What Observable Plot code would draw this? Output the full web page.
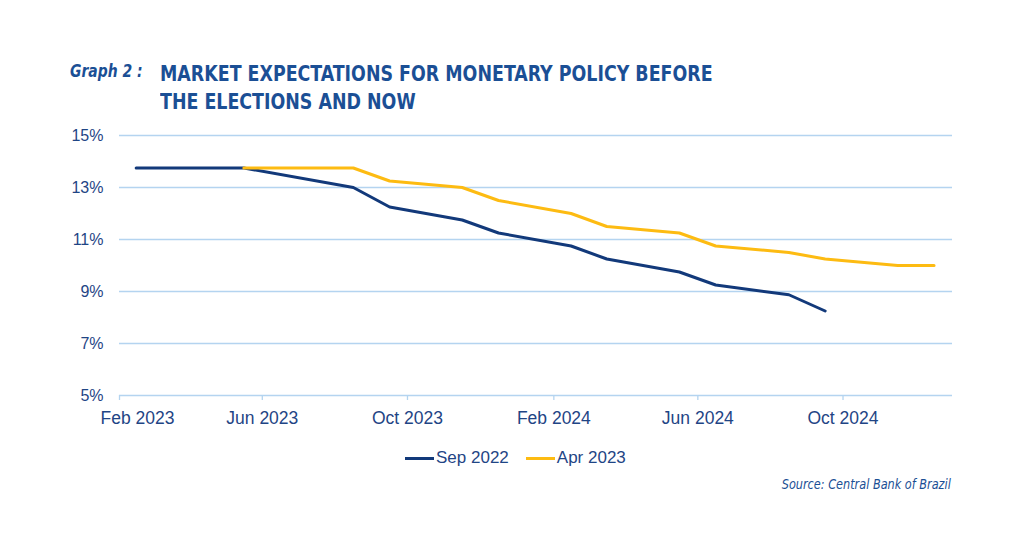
<!DOCTYPE html>
<html>
<head>
<meta charset="utf-8">
<script src="https://cdn.jsdelivr.net/npm/d3@7"></script>
<script src="https://cdn.jsdelivr.net/npm/@observablehq/plot@0.6"></script>
<style>
  html, body { margin: 0; padding: 0; background: #fff; }
  #page { position: relative; width: 1024px; height: 546px; overflow: hidden; font-family: "Liberation Sans", Arial, sans-serif; }
  .graph-no { position: absolute; left: 70px; top: 60px; font-family: "DejaVu Sans Condensed", sans-serif; font-style: italic; font-weight: bold; font-size: 18px; color: #1b4f95; transform: scaleX(0.86); transform-origin: left top; white-space: nowrap; }
  .title { position: absolute; left: 160px; top: 60px; font-family: "DejaVu Sans Condensed", sans-serif; font-weight: bold; font-size: 21px; line-height: 28px; color: #1b4f95; transform: scaleX(0.922); transform-origin: left top; white-space: nowrap; }
  #chart { position: absolute; left: 0; top: 115px; }
  .legend { position: absolute; top: 448px; left: 405px; display: flex; font-size: 17px; color: #1f4585; }
  .legend .item { display: flex; align-items: center; margin-right: 17px; }
  .legend .sw { width: 29px; height: 3px; margin-right: 2px; }
  .source { position: absolute; right: 73px; top: 476px; font-family: "DejaVu Sans Condensed", sans-serif; font-style: italic; font-size: 13.5px; color: #1b4f95; transform: scaleX(0.93); transform-origin: right top; white-space: nowrap; }
</style>
</head>
<body>
<div id="page">
  <div class="graph-no">Graph 2 :</div>
  <div class="title">MARKET EXPECTATIONS FOR MONETARY POLICY BEFORE<br>THE ELECTIONS AND NOW</div>
  <div id="chart"></div>
  <div class="legend">
    <div class="item"><span class="sw" style="background:#12397a"></span>Sep 2022</div>
    <div class="item"><span class="sw" style="background:#fdbb12"></span>Apr 2023</div>
  </div>
  <div class="source">Source: Central Bank of Brazil</div>
</div>
<script>
// Expected Selic path by Copom meeting month (% per year)
const sep2022Months = ["2023-02","2023-05","2023-08","2023-09","2023-11","2023-12","2024-02","2024-03","2024-05","2024-06","2024-08","2024-09"];
const sep2022Rates  = [13.75, 13.75, 13.0, 12.25, 11.75, 11.25, 10.75, 10.25, 9.75, 9.25, 8.875, 8.25];

const apr2023Months = ["2023-05","2023-08","2023-09","2023-11","2023-12","2024-02","2024-03","2024-05","2024-06","2024-08","2024-09","2024-11","2024-12"];
const apr2023Rates  = [13.75, 13.75, 13.25, 13.0, 12.5, 12.0, 11.5, 11.25, 10.75, 10.5, 10.25, 10.0, 10.0];

const seriesNames = ["Sep 2022", "Apr 2023"];
const seriesColors = ["#12397a", "#fdbb12"];

const yTicks = [5, 7, 9, 11, 13, 15];
const xTickMonths = ["2023-02","2023-06","2023-10","2024-02","2024-06","2024-10"];
const xTickLabels = ["Feb 2023","Jun 2023","Oct 2023","Feb 2024","Jun 2024","Oct 2024"];

const parseMonth = d3.utcParse("%Y-%m");
// each value sits in the middle of its month
const midMonth = (m) => { const s = parseMonth(m); const e = d3.utcMonth.offset(s, 1); return new Date((+s + +e) / 2); };

const rows = [
  ...sep2022Months.map((m, i) => ({date: midMonth(m), rate: sep2022Rates[i], series: seriesNames[0]})),
  ...apr2023Months.map((m, i) => ({date: midMonth(m), rate: apr2023Rates[i], series: seriesNames[1]}))
];

const tickDates = xTickMonths.map(parseMonth);
const labelOf = new Map(tickDates.map((d, i) => [+d, xTickLabels[i]]));
const gridColor = "#b4d4f0";
const textColor = "#1f4585";

const chart = Plot.plot({
  width: 1024,
  height: 330,
  marginLeft: 119,
  marginRight: 72,
  marginTop: 20,
  marginBottom: 50,
  style: {fontFamily: "Liberation Sans, Arial, sans-serif", fontSize: "16px", color: textColor, background: "transparent"},
  x: {type: "utc", domain: [parseMonth("2023-02"), parseMonth("2025-01")]},
  y: {domain: [5, 15]},
  color: {domain: seriesNames, range: seriesColors},
  marks: [
    Plot.gridY(yTicks, {stroke: gridColor, strokeOpacity: 1, strokeWidth: 1.3}),
    Plot.axisY(yTicks, {tickSize: 0, tickPadding: 16, tickFormat: d => d + "%", fill: textColor, fontSize: 16, label: null}),
    // tick marks at every fourth month boundary
    Plot.axisX(tickDates, {tickSize: 5, stroke: gridColor, strokeWidth: 1.3, tickFormat: () => "", label: null}),
    // first label is nudged right so it stays inside the frame
    Plot.axisX(tickDates.slice(0, 1), {tickSize: 0, tickPadding: 16, dx: 18, tickFormat: d => labelOf.get(+d), fill: textColor, fontSize: 17.5, label: null}),
    Plot.axisX(tickDates.slice(1), {tickSize: 0, tickPadding: 16, tickFormat: d => labelOf.get(+d), fill: textColor, fontSize: 17.5, label: null}),
    Plot.line(rows, {x: "date", y: "rate", z: "series", stroke: "series", strokeWidth: 3, strokeLinejoin: "round"})
  ]
});
document.getElementById("chart").appendChild(chart);
</script>
</body>
</html>
